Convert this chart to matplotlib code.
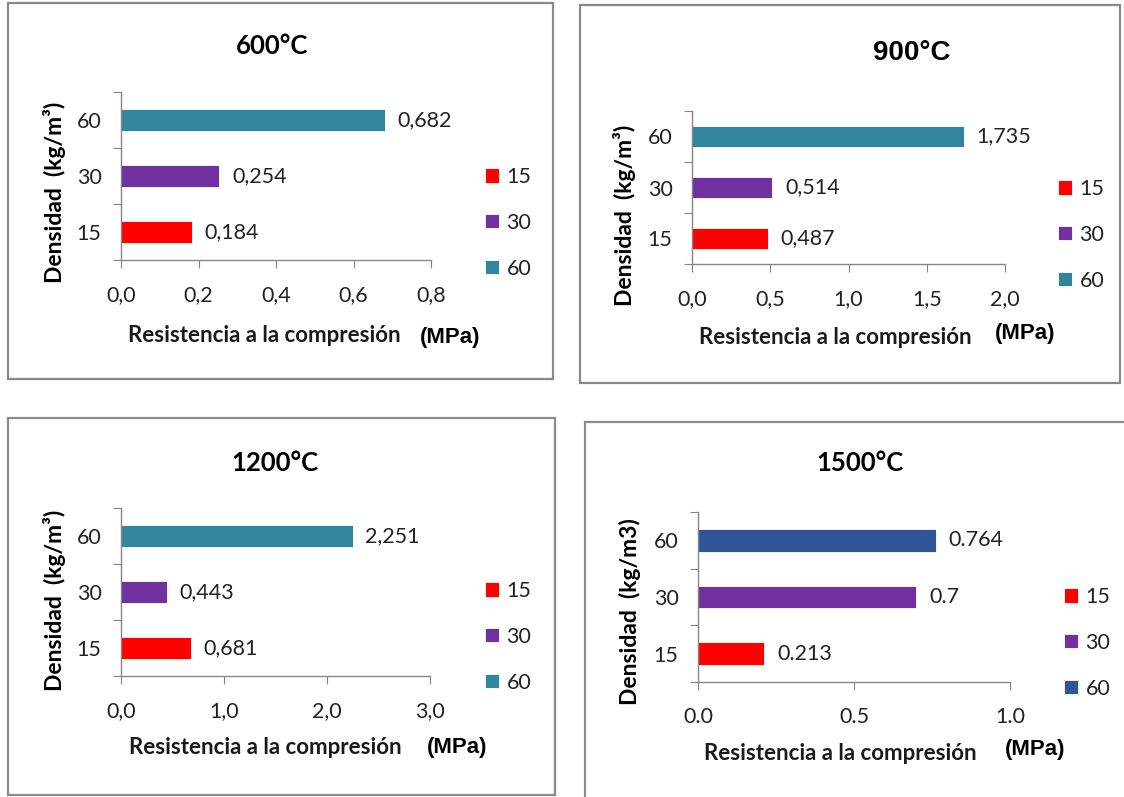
import matplotlib
matplotlib.use("Agg")
import matplotlib.pyplot as plt
from matplotlib.patches import Rectangle

W, H = 1124, 797

densidades = ["15", "30", "60"]
titulos = ["600°C", "900°C", "1200°C", "1500°C"]
r600 = [0.184, 0.254, 0.682]
r900 = [0.487, 0.514, 1.735]
r1200 = [0.681, 0.443, 2.251]
r1500 = [0.213, 0.7, 0.764]
xmax = [0.8, 2.0, 3.0, 1.0]
xpaso = [0.2, 0.5, 1.0, 0.5]

col_15 = "#FF0000"
col_30 = "#7030A0"
col_60 = "#31859C"
col_60b = "#2F5597"

plt.rcParams['font.family'] = ['Lato', 'DejaVu Sans']

fig = plt.figure(figsize=(W / 100, H / 100), dpi=100)


def px(x, y):
    return x / W, 1 - y / H


# posiciones en pixeles: caja, ejes, titulo, ylabel, xlabel, (MPa), leyenda
paneles = [
    dict(box=(8, 3, 553, 379), ax=(121, 92, 431, 260), tit=(272, 46), yl=(54, 192),
         xl=(264, 335), mpa=(450, 337), leg=(485, 167), dec=","),
    dict(box=(580, 5, 1120, 383), ax=(692, 111, 1005, 264), tit=(912, 53), yl=(625, 215),
         xl=(835, 337), mpa=(1025, 334), leg=(1058, 179), dec=","),
    dict(box=(8, 418, 555, 795), ax=(121, 508, 430, 676), tit=(275, 463), yl=(54, 600),
         xl=(265, 748), mpa=(457, 748), leg=(485, 581), dec=","),
    dict(box=(585, 422, 1126, 799), ax=(698, 512, 1010, 682), tit=(860, 463), yl=(630, 612),
         xl=(840, 753), mpa=(1035, 749), leg=(1064, 587), dec="."),
]
datos = [r600, r900, r1200, r1500]
colores = [[col_15, col_30, col_60]] * 3 + [[col_15, col_30, col_60b]]

for i, p in enumerate(paneles):
    x0, y0, x1, y1 = p["box"]
    fig.patches.append(Rectangle(px(x0, y1), (x1 - x0) / W, (y1 - y0) / H,
                                 transform=fig.transFigure, fill=False,
                                 edgecolor="#8a8a8a", linewidth=1.6))
    a0, b0, a1, b1 = p["ax"]
    l, b = px(a0, b1)
    ax = fig.add_axes([l, b, (a1 - a0) / W, (b1 - b0) / H])
    ypos = range(len(densidades))
    barras = []
    for j in ypos:
        bb = ax.barh(j, datos[i][j], height=0.4, color=colores[i][j],
                     edgecolor="white", linewidth=0.6, label=densidades[j])
        barras.append(bb)
        if p["dec"] == ",":
            txt = f"{datos[i][j]:.3f}".replace(".", ",")
        else:
            txt = f"{datos[i][j]:g}"
        ax.bar_label(bb, labels=[txt], padding=9, fontsize=15.5, color="#222222")
    ax.set_xlim(0, xmax[i])
    ax.set_ylim(-0.5, len(densidades) - 0.5)
    n = int(round(xmax[i] / xpaso[i]))
    ticks = [k * xpaso[i] for k in range(n + 1)]
    ax.set_xticks(ticks)
    if p["dec"] == ",":
        ax.set_xticklabels([f"{t:.1f}".replace(".", ",") for t in ticks])
    else:
        ax.set_xticklabels([f"{t:.1f}" for t in ticks])
    ax.set_yticks([k - 0.5 for k in range(len(densidades) + 1)])
    ax.set_yticklabels([])
    ax.set_yticks(list(ypos), minor=True)
    ax.set_yticklabels(densidades, minor=True)
    ax.tick_params(axis="y", which="major", length=6, color="#868686", direction="out")
    ax.tick_params(axis="y", which="minor", length=0, pad=14, labelsize=15.5, labelcolor="#222222")
    ax.tick_params(axis="x", length=6, color="#868686", direction="out", pad=12,
                   labelsize=15.5, labelcolor="#222222")
    for s in ["top", "right"]:
        ax.spines[s].set_visible(False)
    for s in ["left", "bottom"]:
        ax.spines[s].set_color("#868686")
        ax.spines[s].set_linewidth(1.0)

    tx, ty = px(*p["tit"])
    if i == 1:
        fig.text(tx, ty, titulos[i], ha="center", va="center", fontsize=20,
                 fontweight="bold", family=['Liberation Sans'])
    else:
        fig.text(tx, ty, titulos[i], ha="center", va="center", fontsize=18.5,
                 fontweight="bold")
    yx, yy = px(*p["yl"])
    ylab = "Densidad  (kg/m³)" if i < 3 else "Densidad  (kg/m3)"
    fig.text(yx, yy, ylab, rotation=90, ha="center", va="center", fontsize=16.5,
             fontweight="bold")
    lx, ly = px(*p["xl"])
    fig.text(lx, ly, "Resistencia a la compresión", ha="center", va="center",
             fontsize=16, fontweight="bold", color="#1a1a1a")
    mx, my = px(*p["mpa"])
    fig.text(mx, my, "(MPa)", ha="center", va="center", fontsize=16,
             fontweight="bold", family=['Liberation Sans'])
    gx, gy = px(*p["leg"])
    ax.legend(handles=barras, labels=densidades, loc="upper left",
              bbox_to_anchor=(gx, gy), bbox_transform=fig.transFigure,
              frameon=False, fontsize=15.5, handlelength=0.65, handleheight=0.65,
              handletextpad=0.35, labelspacing=1.2, borderpad=0, borderaxespad=0,
              labelcolor="#222222")

fig.savefig("out.png", dpi=100, facecolor="white")
